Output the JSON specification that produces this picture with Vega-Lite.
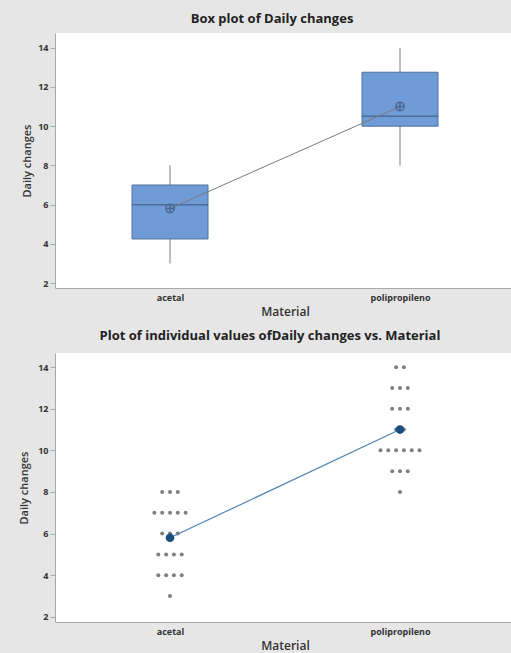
{
  "$schema": "https://vega.github.io/schema/vega-lite/v6.json",
  "background": "#e6e6e6",
  "padding": {"left": 18, "top": 13, "right": 0, "bottom": 5},
  "datasets": {
    "valores": [
      {"Material": "acetal", "Daily changes": 3},
      {"Material": "acetal", "Daily changes": 4},
      {"Material": "acetal", "Daily changes": 4},
      {"Material": "acetal", "Daily changes": 4},
      {"Material": "acetal", "Daily changes": 4},
      {"Material": "acetal", "Daily changes": 5},
      {"Material": "acetal", "Daily changes": 5},
      {"Material": "acetal", "Daily changes": 5},
      {"Material": "acetal", "Daily changes": 5},
      {"Material": "acetal", "Daily changes": 6},
      {"Material": "acetal", "Daily changes": 6},
      {"Material": "acetal", "Daily changes": 6},
      {"Material": "acetal", "Daily changes": 7},
      {"Material": "acetal", "Daily changes": 7},
      {"Material": "acetal", "Daily changes": 7},
      {"Material": "acetal", "Daily changes": 7},
      {"Material": "acetal", "Daily changes": 7},
      {"Material": "acetal", "Daily changes": 8},
      {"Material": "acetal", "Daily changes": 8},
      {"Material": "acetal", "Daily changes": 8},
      {"Material": "polipropileno", "Daily changes": 8},
      {"Material": "polipropileno", "Daily changes": 9},
      {"Material": "polipropileno", "Daily changes": 9},
      {"Material": "polipropileno", "Daily changes": 9},
      {"Material": "polipropileno", "Daily changes": 10},
      {"Material": "polipropileno", "Daily changes": 10},
      {"Material": "polipropileno", "Daily changes": 10},
      {"Material": "polipropileno", "Daily changes": 10},
      {"Material": "polipropileno", "Daily changes": 10},
      {"Material": "polipropileno", "Daily changes": 10},
      {"Material": "polipropileno", "Daily changes": 11},
      {"Material": "polipropileno", "Daily changes": 11},
      {"Material": "polipropileno", "Daily changes": 12},
      {"Material": "polipropileno", "Daily changes": 12},
      {"Material": "polipropileno", "Daily changes": 12},
      {"Material": "polipropileno", "Daily changes": 13},
      {"Material": "polipropileno", "Daily changes": 13},
      {"Material": "polipropileno", "Daily changes": 13},
      {"Material": "polipropileno", "Daily changes": 14},
      {"Material": "polipropileno", "Daily changes": 14}
    ],
    "resumen": [
      {"Material": "acetal", "minimo": 3, "q1": 4.25, "mediana": 6, "q3": 7, "maximo": 8, "media": 5.8},
      {"Material": "polipropileno", "minimo": 8, "q1": 10, "mediana": 10.5, "q3": 12.75, "maximo": 14, "media": 11}
    ]
  },
  "config": {
    "font": "Open Sans",
    "view": {"fill": "white", "stroke": null},
    "axis": {
      "labelFont": "Open Sans",
      "labelFontSize": 9,
      "labelFontWeight": "bold",
      "labelColor": "#333333",
      "titleFont": "Open Sans",
      "titleColor": "#333333",
      "titleFontWeight": 600,
      "domainColor": "#a8a8a8",
      "tickColor": "#a8a8a8",
      "grid": false
    },
    "axisY": {
      "values": [2, 4, 6, 8, 10, 12, 14],
      "tickSize": 5,
      "labelPadding": 2,
      "titleFontSize": 11,
      "titleBaseline": "middle",
      "titleAngle": -90
    },
    "axisX": {
      "labelAngle": 0,
      "ticks": false,
      "labelPadding": 5,
      "titleFontSize": 12,
      "titleBaseline": "middle",
      "titleY": 23
    },
    "title": {"font": "Open Sans", "fontSize": 13, "fontWeight": "bold", "color": "#222222", "anchor": "middle"}
  },
  "spacing": 13,
  "vconcat": [
    {
      "width": 460,
      "height": 255,
      "title": {"text": "Box plot of Daily changes", "dx": -13, "offset": 7},
      "data": {"name": "resumen"},
      "encoding": {
        "x": {
          "field": "Material",
          "type": "nominal",
          "scale": {"type": "point", "padding": 0.5},
          "axis": {"title": "Material"}
        }
      },
      "layer": [
        {
          "mark": {"type": "rule", "color": "#808080", "strokeWidth": 1},
          "encoding": {
            "y": {
              "field": "minimo",
              "type": "quantitative",
              "scale": {"domain": [1.75, 14.75], "nice": false, "zero": false},
              "axis": {"title": "Daily changes", "titleX": -28}
            },
            "y2": {"field": "maximo"}
          }
        },
        {
          "mark": {"type": "bar", "size": 76, "fill": "#6f9bd6", "stroke": "#50709e", "strokeWidth": 1},
          "encoding": {
            "y": {"field": "q1", "type": "quantitative"},
            "y2": {"field": "q3"}
          }
        },
        {
          "mark": {"type": "tick", "size": 76, "thickness": 1.5, "color": "#3e5b85"},
          "encoding": {"y": {"field": "mediana", "type": "quantitative"}}
        },
        {
          "mark": {"type": "line", "color": "#7a7a7a", "strokeWidth": 1},
          "encoding": {"y": {"field": "media", "type": "quantitative"}}
        },
        {
          "mark": {
            "type": "point",
            "shape": "M-1,0A1,1 0 1,1 1,0A1,1 0 1,1 -1,0ZM-1,0L1,0M0,-1L0,1",
            "size": 70,
            "filled": false,
            "stroke": "#4b6894",
            "strokeWidth": 1.5,
            "opacity": 1
          },
          "encoding": {"y": {"field": "media", "type": "quantitative"}}
        }
      ]
    },
    {
      "width": 460,
      "height": 269,
      "title": {"text": "Plot of individual values ofDaily changes vs. Material", "dx": -15, "offset": 10},
      "data": {"name": "valores"},
      "encoding": {
        "x": {
          "field": "Material",
          "type": "nominal",
          "scale": {"type": "point", "padding": 0.5},
          "axis": {"title": "Material"}
        }
      },
      "layer": [
        {
          "transform": [
            {"window": [{"op": "row_number", "as": "orden"}], "groupby": ["Material", "Daily changes"]},
            {"joinaggregate": [{"op": "count", "as": "n"}], "groupby": ["Material", "Daily changes"]},
            {"calculate": "datum.orden - (datum.n + 1) / 2", "as": "desplazamiento"}
          ],
          "mark": {"type": "circle", "size": 16, "color": "#7f7f7f", "opacity": 1},
          "encoding": {
            "y": {
              "field": "Daily changes",
              "type": "quantitative",
              "scale": {"domain": [1.75, 14.68], "nice": false, "zero": false},
              "axis": {"title": "Daily changes", "titleX": -31}
            },
            "xOffset": {
              "field": "desplazamiento",
              "type": "quantitative",
              "scale": {"domain": [-5, 5], "range": [-39, 39]}
            }
          }
        },
        {
          "mark": {"type": "line", "color": "#4f84b5", "strokeWidth": 1.2},
          "encoding": {"y": {"aggregate": "mean", "field": "Daily changes", "type": "quantitative"}}
        },
        {
          "mark": {"type": "circle", "size": 75, "color": "#1c4f80", "opacity": 1},
          "encoding": {"y": {"aggregate": "mean", "field": "Daily changes", "type": "quantitative"}}
        }
      ]
    }
  ]
}
